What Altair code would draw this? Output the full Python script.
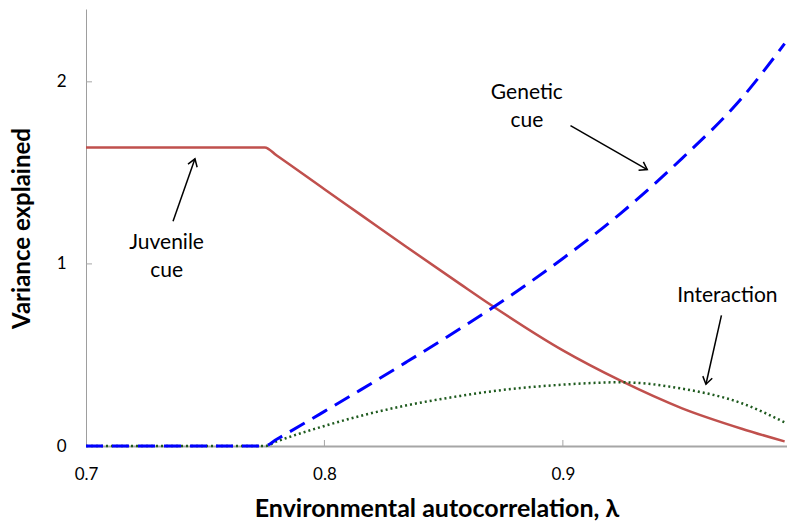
import math
import altair as alt
import pandas as pd

# ---- data ----
lam = [0.700, 0.775, 0.780, 0.800, 0.815, 0.834, 0.857, 0.870, 0.900, 0.924, 0.950, 0.975, 0.993]
juvenile = [1.64, 1.64, 1.595, 1.41, 1.272, 1.097, 0.889, 0.773, 0.525, 0.36, 0.207, 0.095, 0.025]
genetic = [0.0, 0.0, 0.037, 0.19, 0.307, 0.458, 0.645, 0.755, 1.03, 1.275, 1.58, 1.91, 2.21]
interaction = [0.0, 0.0, 0.025, 0.11, 0.165, 0.222, 0.275, 0.30, 0.337, 0.35, 0.315, 0.235, 0.13]

x_ticks = [0.7, 0.8, 0.9]
y_ticks = [0, 1, 2]

label_text = ["Genetic", "cue", "Juvenile", "cue", "Interaction"]
label_x = [0.8849, 0.8849, 0.7338, 0.7338, 0.969]
label_y = [1.939, 1.783, 1.116, 0.960, 0.823]

arrow_x0 = [0.9032, 0.7365, 0.9665]
arrow_y0 = [1.759, 1.234, 0.717]
arrow_x1 = [0.9354, 0.7457, 0.9600]
arrow_y1 = [1.518, 1.577, 0.339]

X_DOMAIN = [0.7, 0.994]
Y_DOMAIN = [0, 2.4]
W, H = 701, 437

FONT = "Lato"

df = pd.DataFrame({"lam": lam, "juv": juvenile, "gen": genetic, "int": interaction})

xscale = alt.Scale(domain=X_DOMAIN, nice=False, zero=False)
yscale = alt.Scale(domain=Y_DOMAIN, nice=False)

xaxis = alt.Axis(
    values=x_ticks, format=".1f", ticks=False, grid=False, labelFlush=False,
    domainColor="#A6A6A6", domainWidth=2,
    labelFont=FONT, labelFontSize=17, labelColor="#000000", labelPadding=20,
    title="Environmental autocorrelation, λ",
    titleFont=FONT, titleFontSize=25, titleFontWeight="bold", titleColor="#000000",
    titleY=70, titleBaseline="alphabetic",
)
yaxis = alt.Axis(
    values=y_ticks, format="d", ticks=False, grid=False,
    domainColor="#9E9E9E", domainWidth=1,
    labelFont=FONT, labelFontSize=17, labelColor="#000000", labelPadding=20,
    title="Variance explained",
    titleFont=FONT, titleFontSize=24, titleFontWeight="bold", titleColor="#000000",
    titleX=-57, titleY=219, titleAngle=-90, titleAlign="center", titleBaseline="alphabetic",
)

base = alt.Chart(df)

red = base.mark_line(color="#C0504D", strokeWidth=2.5, interpolate="monotone").encode(
    x=alt.X("lam:Q", scale=xscale, axis=xaxis),
    y=alt.Y("juv:Q", scale=yscale, axis=yaxis),
)
green = base.mark_line(color="#1E5A1E", strokeWidth=2.5, strokeDash=[2, 3],
                       interpolate="monotone").encode(
    x=alt.X("lam:Q", scale=xscale), y=alt.Y("int:Q", scale=yscale))
blue = base.mark_line(color="#0000FF", strokeWidth=3, strokeDash=[17, 9],
                      interpolate="monotone").encode(
    x=alt.X("lam:Q", scale=xscale), y=alt.Y("gen:Q", scale=yscale))

# inward tick marks
xt = alt.Chart(pd.DataFrame({"v": x_ticks[1:]})).mark_rule(color="#A6A6A6", strokeWidth=1).encode(
    x=alt.X("v:Q", scale=xscale), y=alt.value(H), y2=alt.value(H - 6))
yt = alt.Chart(pd.DataFrame({"v": y_ticks[1:]})).mark_rule(color="#A6A6A6", strokeWidth=1).encode(
    y=alt.Y("v:Q", scale=yscale), x=alt.value(0), x2=alt.value(6))

# annotations
labels = alt.Chart(pd.DataFrame({"t": label_text, "x": label_x, "y": label_y})).mark_text(
    font=FONT, fontSize=21, color="#000000", align="center", baseline="middle").encode(
    x=alt.X("x:Q", scale=xscale), y=alt.Y("y:Q", scale=yscale), text="t:N")

px_x = W / (X_DOMAIN[1] - X_DOMAIN[0])
px_y = H / (Y_DOMAIN[1] - Y_DOMAIN[0])
angles = []
for a, b, c, d in zip(arrow_x0, arrow_y0, arrow_x1, arrow_y1):
    dx = (c - a) * px_x
    dy = -(d - b) * px_y
    angles.append(math.degrees(math.atan2(dx, -dy)) % 360)
adf = pd.DataFrame({"x0": arrow_x0, "y0": arrow_y0, "x1": arrow_x1, "y1": arrow_y1, "ang": angles})

shafts = alt.Chart(adf).mark_rule(color="#000000", strokeWidth=1.5).encode(
    x=alt.X("x0:Q", scale=xscale), y=alt.Y("y0:Q", scale=yscale), x2="x1:Q", y2="y1:Q")
heads = alt.Chart(adf).mark_point(
    shape="M -0.6 0.9 L 0 0 L 0.6 0.9", filled=False, color="#000000",
    strokeWidth=1.5, size=260, opacity=1).encode(
    x=alt.X("x1:Q", scale=xscale), y=alt.Y("y1:Q", scale=yscale),
    angle=alt.Angle("ang:Q", scale=None))

chart = alt.layer(red, green, blue, xt, yt, shafts, heads, labels).properties(
    width=W, height=H,
    autosize=alt.AutoSizeParams(type="none"),
    padding={"left": 86, "top": 9, "right": 0, "bottom": 81},
    background="#FFFFFF",
).configure_view(stroke=None)

chart.save("out.html", embed_options={"renderer": "svg", "actions": False})
